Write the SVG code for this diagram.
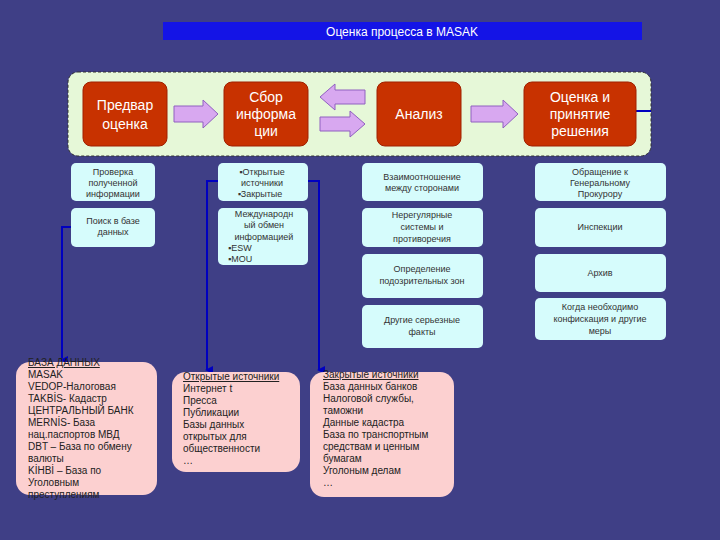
<svg xmlns="http://www.w3.org/2000/svg" width="720" height="540" viewBox="0 0 720 540">
<style>
text{font-family:"Liberation Sans",Arial,sans-serif}
.r{fill:#c83200;stroke:#a02000;stroke-width:1}
.rt{fill:#fff;font-size:14px;text-anchor:middle}
.b{fill:#d6fcfc}
.bt{fill:#333;font-size:9px;text-anchor:middle}
.bl{fill:#333;font-size:9px}
.p{fill:#fcd0d0}
.pt{fill:#222;font-size:10px}
.ar{fill:#d8a8f0;stroke:#9060c0;stroke-width:1}
.ln{stroke:#0000c0;stroke-width:2;fill:none}
</style>
<defs><marker id="m" markerWidth="8" markerHeight="8" refX="4" refY="6" orient="auto" markerUnits="userSpaceOnUse"><path d="M0,0 L8,0 L4,8z" fill="#0000c0"/></marker></defs>
<rect width="720" height="540" fill="#3f3f86"/>
<g id="title"><rect x="163" y="22" width="479" height="18" fill="#1414e6"/><text x="402" y="36" fill="#fff" font-size="12" text-anchor="middle">Оценка процесса в  MASAK</text></g>
<rect x="68" y="72" width="583" height="84" rx="10" fill="#e6f8d8" stroke="#333" stroke-dasharray="3,2"/>
<g id="connectors">
<path class="ar" d="M174,106 H203 V100 L218,114 L203,128 V122 H174z"/>
<path class="ar" d="M365,90 H335 V84 L320,97 L335,110 V104 H365z"/>
<path class="ar" d="M320,117 H350 V111 L365,124 L350,137 V131 H320z"/>
<path class="ar" d="M471,106 H503 V100 L518,114 L503,128 V122 H471z"/>
<line x1="636" y1="111" x2="651" y2="111" stroke="#0000c0" stroke-width="2"/>
<path class="ln" d="M71,227 H62 V360" marker-end="url(#m)"/>
<path class="ln" d="M218,181 H207 V370" marker-end="url(#m)"/>
<path class="ln" d="M308,181 H319 V370" marker-end="url(#m)"/>
</g>
<g id="n1"><rect class="r" x="83" y="82" width="84" height="64" rx="8"/><text class="rt" x="125" y="110">Предвар</text><text class="rt" x="125" y="129">оценка</text></g>
<g id="n2"><rect class="r" x="224" y="82" width="84" height="64" rx="8"/><text class="rt" x="266" y="102">Сбор</text><text class="rt" x="266" y="119">информа</text><text class="rt" x="266" y="136">ции</text></g>
<g id="n3"><rect class="r" x="377" y="82" width="84" height="64" rx="8"/><text class="rt" x="419" y="119">Анализ</text></g>
<g id="n4"><rect class="r" x="524" y="82" width="112" height="64" rx="8"/><text class="rt" x="580" y="102">Оценка и</text><text class="rt" x="580" y="119">принятие</text><text class="rt" x="580" y="136">решения</text></g>
<g id="c1a"><rect class="b" x="71" y="163" width="84" height="38" rx="5"/><text class="bt" x="113" y="175">Проверка</text><text class="bt" x="113" y="186">полученной</text><text class="bt" x="113" y="197">информации</text></g>
<g id="c1b"><rect class="b" x="71" y="208" width="84" height="39" rx="5"/><text class="bt" x="113" y="224">Поиск в базе</text><text class="bt" x="113" y="235">данных</text></g>
<g id="c2a"><rect class="b" x="218" y="163" width="90" height="38" rx="5"/><text class="bt" x="262" y="175">▪Открытые</text><text class="bt" x="262" y="186">источники</text><text class="bt" x="260" y="197">▪Закрытые</text></g>
<g id="c2b"><rect class="b" x="218" y="208" width="90" height="57" rx="5"/><text class="bt" x="264" y="217">Международн</text><text class="bt" x="264" y="228">ый обмен</text><text class="bt" x="264" y="240">информацией</text><text class="bl" x="228" y="251">▪ESW</text><text class="bl" x="228" y="262">▪MOU</text></g>
<g id="c3a"><rect class="b" x="362" y="163" width="121" height="38" rx="5"/><text class="bt" x="422" y="180">Взаимоотношение</text><text class="bt" x="422" y="191">между сторонами</text></g>
<g id="c3b"><rect class="b" x="362" y="208" width="121" height="39" rx="5"/><text class="bt" x="422" y="218">Нерегулярные</text><text class="bt" x="422" y="230">системы и</text><text class="bt" x="422" y="242">противоречия</text></g>
<g id="c3c"><rect class="b" x="362" y="254" width="121" height="44" rx="5"/><text class="bt" x="422" y="272">Определение</text><text class="bt" x="422" y="284">подозрительных зон</text></g>
<g id="c3d"><rect class="b" x="362" y="305" width="121" height="43" rx="5"/><text class="bt" x="422" y="323">Другие серьезные</text><text class="bt" x="422" y="335">факты</text></g>
<g id="c4a"><rect class="b" x="535" y="163" width="131" height="38" rx="5"/><text class="bt" x="600" y="175">Обращение к</text><text class="bt" x="600" y="186">Генеральному</text><text class="bt" x="600" y="197">Прокурору</text></g>
<g id="c4b"><rect class="b" x="535" y="208" width="131" height="39" rx="5"/><text class="bt" x="600" y="230">Инспекции</text></g>
<g id="c4c"><rect class="b" x="535" y="254" width="131" height="38" rx="5"/><text class="bt" x="600" y="276">Архив</text></g>
<g id="c4d"><rect class="b" x="535" y="298" width="131" height="42" rx="5"/><text class="bt" x="600" y="310">Когда необходимо</text><text class="bt" x="600" y="322">конфискация и другие</text><text class="bt" x="600" y="334">меры</text></g>
<g id="p1"><rect class="p" x="16" y="362" width="141" height="133" rx="14"/>
<text class="pt" x="28" y="366" text-decoration="underline">БАЗА ДАННЫХ</text>
<text class="pt" x="28" y="378">MASAK</text><text class="pt" x="28" y="390">VEDOP-Налоговая</text><text class="pt" x="28" y="402">TAKBİS- Кадастр</text><text class="pt" x="28" y="414">ЦЕНТРАЛЬНЫЙ  БАНК</text><text class="pt" x="28" y="426">MERNİS- База</text><text class="pt" x="28" y="438">нац.паспортов МВД</text><text class="pt" x="28" y="450">DBT – База по обмену</text><text class="pt" x="28" y="462">валюты</text><text class="pt" x="28" y="474">KİHBİ – База по</text><text class="pt" x="28" y="486">Уголовным</text><text class="pt" x="28" y="498">преступлениям</text></g>
<g id="p2"><rect class="p" x="172" y="372" width="128" height="100" rx="14"/>
<text class="pt" x="183" y="380" text-decoration="underline">Открытые источники</text>
<text class="pt" x="183" y="392">Интернет t</text><text class="pt" x="183" y="404">Пресса</text><text class="pt" x="183" y="416">Публикации</text><text class="pt" x="183" y="428">Базы данных</text><text class="pt" x="183" y="440">открытых для</text><text class="pt" x="183" y="452">общественности</text><text class="pt" x="183" y="464">…</text></g>
<g id="p3"><rect class="p" x="310" y="372" width="144" height="125" rx="14"/>
<text class="pt" x="323" y="378" text-decoration="underline">Закрытые источники</text>
<text class="pt" x="323" y="390">База данных банков</text><text class="pt" x="323" y="402">Налоговой службы,</text><text class="pt" x="323" y="414">таможни</text><text class="pt" x="323" y="426">Данные кадастра</text><text class="pt" x="323" y="438">База по транспортным</text><text class="pt" x="323" y="450">средствам и ценным</text><text class="pt" x="323" y="462">бумагам</text><text class="pt" x="323" y="474">Уголоным делам</text><text class="pt" x="323" y="486">…</text></g>
</svg>
